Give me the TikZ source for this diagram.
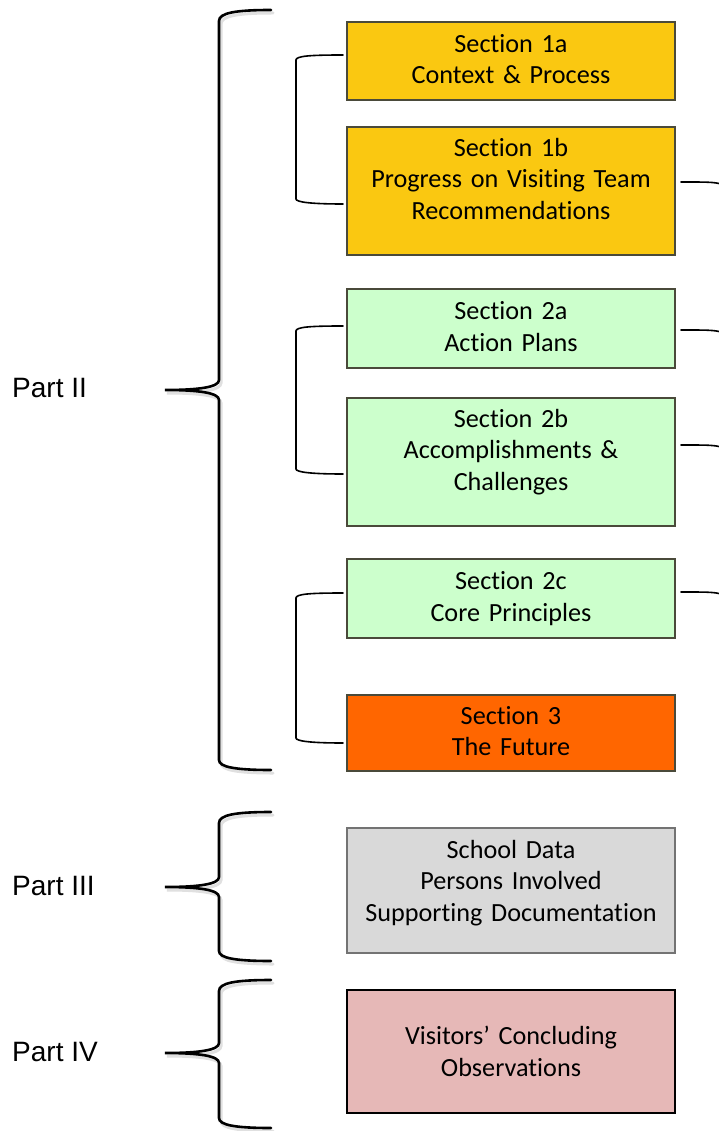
\documentclass[tikz,border=0pt]{standalone}
\usepackage{fontspec}
\setmainfont{Carlito}[WordSpace=0.7, Ligatures=NoCommon]
\newfontfamily\partfont{Liberation Sans}
\usetikzlibrary{positioning}

\definecolor{secgold}{HTML}{FAC811}
\definecolor{secgreen}{HTML}{CCFFCC}
\definecolor{secorange}{HTML}{FF6600}
\definecolor{secgray}{HTML}{D9D9D9}
\definecolor{secpink}{HTML}{E6B8B7}
\definecolor{boxline}{HTML}{4A4A3A}

\tikzset{
    secbox/.style={draw=boxline, line width=1.2pt, minimum width=328, align=center,
        text width=320, inner sep=0pt, text depth=36pt, font=\fontsize{26.2}{31.5}\selectfont},
    threeline/.style={text depth=#1},
    threeline/.default=88pt,
    partlabel/.style={anchor=base west, inner sep=0pt, font=\partfont\fontsize{28}{30}\selectfont},
    bigbrace/.style={line width=2.6pt, line cap=round},
    smallbrace/.style={line width=1.6pt, line cap=round},
    shadowline/.style={black!12, line width=3pt, line cap=round},
}

\begin{document}
\begin{tikzpicture}[x=1pt,y=-1pt]
    \useasboundingbox[fill=white] (0,0) rectangle (719,1131);

    %%%%%%%% Sezioni %%%%%%%%
    \node[secbox, fill=secgold, minimum height=78] (s1a) at (511,61) {Section 1a\\Context \& Process};
    \node[secbox, threeline, fill=secgold, minimum height=128] (s1b) at (511,191) {Section 1b\\Progress on Visiting Team\\Recommendations};
    \node[secbox, fill=secgreen, minimum height=79] (s2a) at (511,328.5) {Section 2a\\Action Plans};
    \node[secbox, threeline, fill=secgreen, minimum height=128] (s2b) at (511,462) {Section 2b\\Accomplishments \&\\Challenges};
    \node[secbox, fill=secgreen, minimum height=79] (s2c) at (511,598.5) {Section 2c\\Core Principles};
    \node[secbox, fill=secorange, minimum height=76] (s3) at (511,733) {Section 3\\The Future};
    \node[secbox, threeline=83pt, draw=black!55, fill=secgray, minimum height=125] (data) at (511,890.5) {School Data\\Persons Involved\\Supporting Documentation};
    \node[secbox, text depth=32pt, draw=black, line width=2.4pt, fill=secpink, minimum height=123] (obs) at (511,1051.5) {Visitors’ Concluding\\Observations};

    %%%%%%%% Parti %%%%%%%%
    \node[partlabel] (p2) at (12,397) {Part II};
    \node[partlabel] (p3) at (12,895) {Part III};
    \node[partlabel] (p4) at (12,1061) {Part IV};

    %%%%%%%% Graffe grandi %%%%%%%%
    \foreach \dx/\dy/\sty in {2/3/shadowline, 0/0/bigbrace} {
        \begin{scope}[shift={(\dx,\dy)}]
        \draw[\sty] (271,10) .. controls (235,10) and (219,13) .. (219,21) -- (219,380)
            .. controls (219,387) and (200,390) .. (165,390)
            .. controls (200,390) and (219,393) .. (219,400) -- (219,760)
            .. controls (219,767) and (235,770) .. (271,770);
        \draw[\sty] (271,812) .. controls (235,812) and (219,815) .. (219,823) -- (219,877)
            .. controls (219,884) and (200,887) .. (165,887)
            .. controls (200,887) and (219,890) .. (219,897) -- (219,951)
            .. controls (219,958) and (235,961) .. (271,961);
        \draw[\sty] (271,980) .. controls (235,980) and (219,983) .. (219,991) -- (219,1043)
            .. controls (219,1050) and (200,1053) .. (165,1053)
            .. controls (200,1053) and (219,1056) .. (219,1063) -- (219,1118)
            .. controls (219,1125) and (235,1128) .. (271,1128);
        \end{scope}
    }

    %%%%%%%% Graffe piccole %%%%%%%%
    \draw[smallbrace] (343,55) .. controls (310,55) and (296,56) .. (296,60) -- (296,199)
        .. controls (296,202) and (310,204) .. (343,204);
    \draw[smallbrace] (343,326) .. controls (310,326) and (296,327) .. (296,331) -- (296,469)
        .. controls (296,472) and (310,474) .. (343,474);
    \draw[smallbrace] (343,593) .. controls (310,593) and (296,594) .. (296,598) -- (296,738)
        .. controls (296,741) and (310,743) .. (343,743);

    %%%%%%%% Linee a destra %%%%%%%%
    \foreach \n/\y in {s1b/182, s2a/330, s2b/445, s2c/592}
        \draw[smallbrace] (681,\y) .. controls (705,\y) and (712,\y) .. (719,\y+1.5);

\end{tikzpicture}
\end{document}
